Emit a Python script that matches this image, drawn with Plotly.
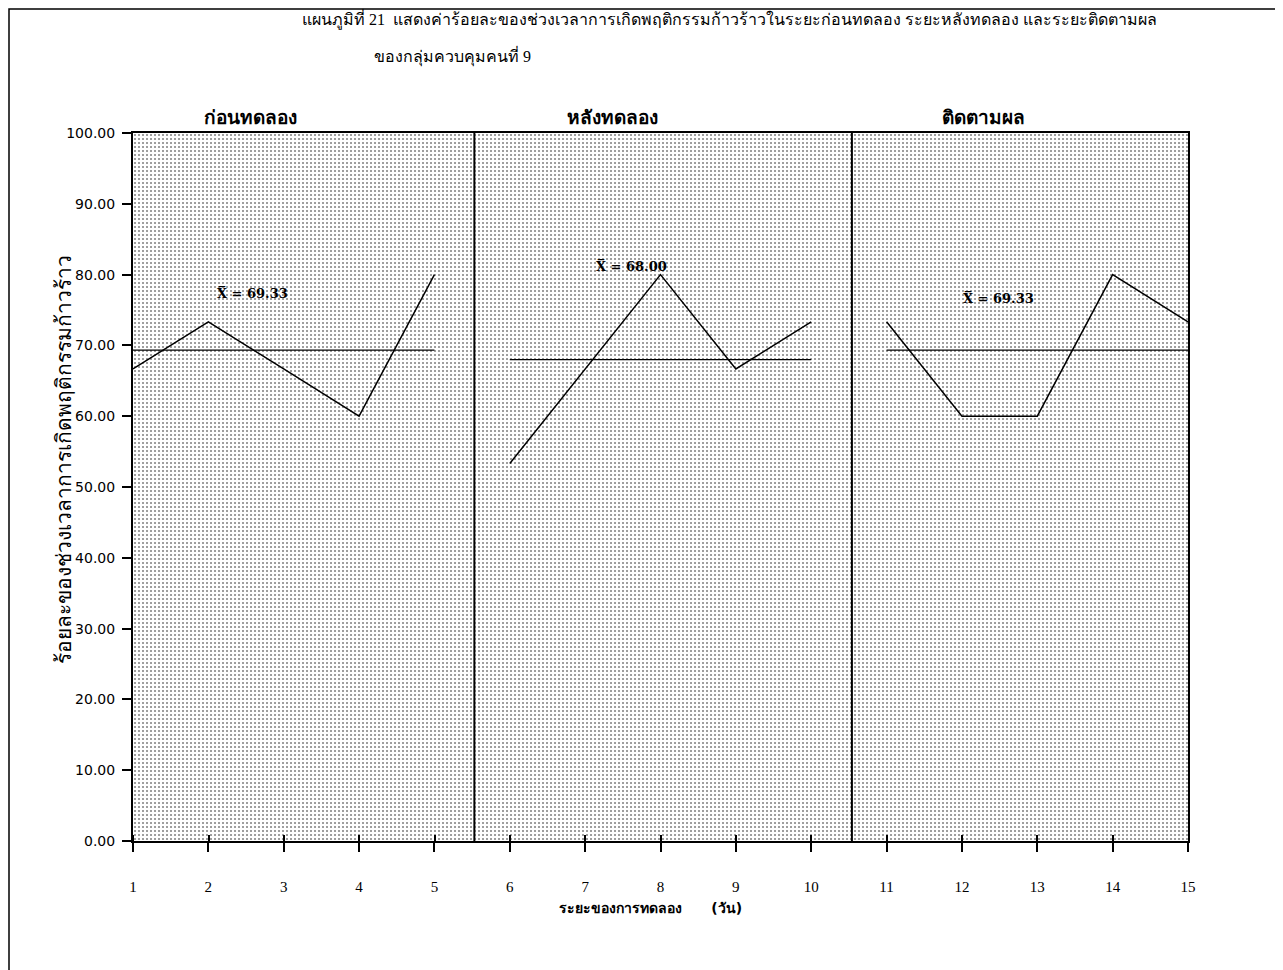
import plotly.graph_objects as go

# ---- data ----
days = list(range(1, 16))
phase_names = ["ก่อนทดลอง", "หลังทดลอง", "ติดตามผล"]
phase_days = [[1, 2, 3, 4, 5], [6, 7, 8, 9, 10], [11, 12, 13, 14, 15]]
phase_values = [
    [66.67, 73.33, 66.67, 60.00, 80.00],
    [53.33, 66.67, 80.00, 66.67, 73.33],
    [73.33, 60.00, 60.00, 80.00, 73.33],
]
phase_means = [69.33, 68.00, 69.33]
mean_labels = ["69.33", "68.00", "69.33"]
phase_breaks = [5.53, 10.54]
y_ticks = [0, 10, 20, 30, 40, 50, 60, 70, 80, 90, 100]

title_line1 = "แผนภูมิที่ 21  แสดงค่าร้อยละของช่วงเวลาการเกิดพฤติกรรมก้าวร้าวในระยะก่อนทดลอง ระยะหลังทดลอง และระยะติดตามผล"
title_line2 = "ของกลุ่มควบคุมคนที่ 9"
y_title = "ร้อยละของช่วงเวลาการเกิดพฤติกรรมก้าวร้าว"
x_title = "ระยะของการทดลอง      (วัน)"

# page is drawn with an 8px body margin
OFF = 8
W, H = 1283 - OFF, 970 - OFF
L = 133 - OFF
T = 133 - OFF
R = W - (1188 - OFF)
B = H - (841 - OFF)
PW, PH = W - L - R, H - T - B


def px(xs):
    return (xs - OFF - L) / PW


def py(ys):
    return (H - B - (ys - OFF)) / PH


fig = go.Figure()

# dotted background of the plotting area
fig.add_trace(go.Scatter(
    x=[days[0], days[-1], days[-1], days[0], days[0]],
    y=[y_ticks[0], y_ticks[0], y_ticks[-1], y_ticks[-1], y_ticks[0]],
    mode="lines", line=dict(width=0), fill="toself",
    fillcolor="white",
    fillpattern=dict(shape=".", fgcolor="#000000", bgcolor="white", size=4, solidity=0.2),
    hoverinfo="skip", showlegend=False,
))

for d, v, m in zip(phase_days, phase_values, phase_means):
    fig.add_trace(go.Scatter(x=d, y=v, mode="lines",
                             line=dict(color="black", width=1.5), showlegend=False))
    fig.add_trace(go.Scatter(x=[d[0], d[-1]], y=[m, m], mode="lines",
                             line=dict(color="black", width=1.2), showlegend=False))

# phase dividers
for b in phase_breaks:
    fig.add_shape(type="line", xref="x", yref="y", x0=b, x1=b, y0=0, y1=100,
                  line=dict(color="black", width=2))

# phase labels
label_px = [250, 612, 983]
for name, lx in zip(phase_names, label_px):
    fig.add_annotation(xref="paper", yref="paper", x=px(lx), y=py(117),
                       xanchor="center", yanchor="middle",
                       text="<b>" + name + "</b>", showarrow=False,
                       font=dict(family="DejaVu Sans", size=19, color="black"))

# mean labels
mean_px = [(252, 293), (631, 266), (998, 298)]
for (mx, my), ml in zip(mean_px, mean_labels):
    fig.add_annotation(xref="paper", yref="paper", x=px(mx), y=py(my),
                       xanchor="center", yanchor="middle",
                       text="<b>X\u0305 = " + ml + "</b>", showarrow=False,
                       font=dict(family="DejaVu Serif", size=13, color="black"))

# titles
fig.add_annotation(xref="paper", yref="paper", x=px(300), y=py(19),
                   xanchor="left", yanchor="middle", text=title_line1, showarrow=False,
                   font=dict(family="Liberation Serif", size=16, color="black"))
fig.add_annotation(xref="paper", yref="paper", x=px(372), y=py(56),
                   xanchor="left", yanchor="middle", text=title_line2, showarrow=False,
                   font=dict(family="Liberation Serif", size=16, color="black"))
fig.add_annotation(xref="paper", yref="paper", x=px(64), y=py(460),
                   xanchor="center", yanchor="middle", text=y_title, textangle=-90, showarrow=False,
                   font=dict(family="Liberation Serif", size=21, color="black"))
fig.add_annotation(xref="paper", yref="paper", x=px(650), y=py(908),
                   xanchor="center", yanchor="middle", text="<b>" + x_title + "</b>", showarrow=False,
                   font=dict(family="DejaVu Sans", size=14, color="black"))

# page frame
fig.add_shape(type="rect", xref="paper", yref="paper",
              x0=px(9), x1=px(1278), y0=py(1000), y1=py(9),
              line=dict(color="black", width=1.5))

fig.update_layout(
    xaxis=dict(range=[days[0], days[-1]], tickvals=days, ticktext=[str(d) for d in days],
               ticks="outside", ticklen=9, tickwidth=1.5, tickcolor="black",
               ticklabelstandoff=22,
               minor=dict(tickvals=[d + 0.002 for d in days], ticks="inside", ticklen=6,
                          tickwidth=1.5, tickcolor="black", showgrid=False),
               showline=True, linecolor="black", linewidth=2, mirror=True,
               showgrid=False, zeroline=False, layer="above traces",
               tickfont=dict(family="Liberation Serif", size=15, color="black")),
    yaxis=dict(range=[y_ticks[0], y_ticks[-1]], tickvals=y_ticks,
               ticktext=["%.2f" % t for t in y_ticks],
               ticks="outside", ticklen=9, tickwidth=1.5, tickcolor="black",
               ticklabelstandoff=4,
               showline=True, linecolor="black", linewidth=2, mirror=True,
               showgrid=False, zeroline=False,
               tickfont=dict(family="DejaVu Sans", size=14, color="black")),
    width=W, height=H, margin=dict(l=L, r=R, t=T, b=B, autoexpand=False),
    plot_bgcolor="white", paper_bgcolor="white", showlegend=False,
)

fig.write_html("out.html")
